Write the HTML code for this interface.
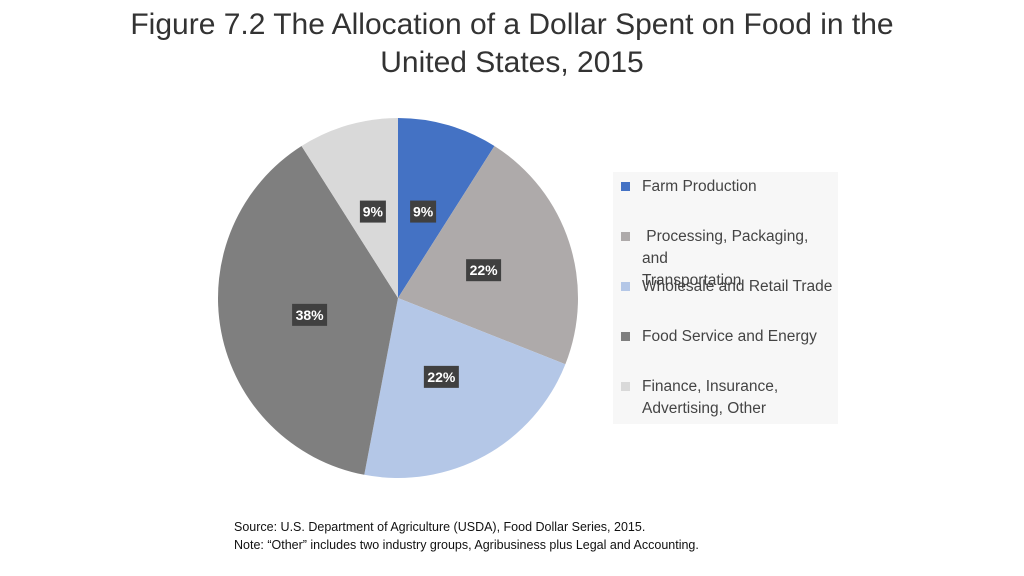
<!DOCTYPE html>
<html><head><meta charset="utf-8"><style>
body{margin:0;width:1024px;height:576px;background:#fff;font-family:"Liberation Sans",sans-serif;overflow:hidden;position:relative}
#title{position:absolute;top:6px;left:0;width:1024px;text-align:center;font-size:30px;line-height:38px;color:#333}
#legend{position:absolute;left:613px;top:172px;width:225px;height:252px;background:#f7f7f7}
.li{position:absolute;left:8px;font-size:15.5px;color:#444;line-height:22px}
.sw{position:absolute;left:0;top:6px;width:9px;height:9px}
.lt{margin-left:21px;display:block}
#note{position:absolute;left:234px;top:518px;font-size:12.5px;line-height:18px;color:#111}
</style></head><body>
<div id="title">Figure 7.2 The Allocation of a Dollar Spent on Food in the<br>United States, 2015</div>
<svg id="pie" width="1024" height="576" style="position:absolute;left:0;top:0"></svg>
<div id="legend"></div>
<div id="note">Source: U.S. Department of Agriculture (USDA), Food Dollar Series, 2015.<br>Note: “Other” includes two industry groups, Agribusiness plus Legal and Accounting.</div>
<script>
const categories=["Farm Production","Processing, Packaging, and Transportation","Wholesale and Retail Trade","Food Service and Energy","Finance, Insurance, Advertising, Other"];
const values=[9,22,22,38,9];
const labels=["9%","22%","22%","38%","9%"];
const colors=["#4472c4","#aeaaaa","#b4c7e7","#7f7f7f","#d9d9d9"];
const legendTops=[4,54,104,154,204];
const legendText=["Farm Production","&nbsp;Processing, Packaging, and<br>Transportation","Wholesale and Retail Trade","Food Service and Energy","Finance, Insurance,<br>Advertising, Other"];
const NS="http://www.w3.org/2000/svg";
const svg=document.getElementById('pie');
const cx=398,cy=298,r=180;
const total=values.reduce((a,b)=>a+b,0);
function pt(a,rr){return [cx+rr*Math.sin(a),cy-rr*Math.cos(a)];}
let a0=0;
values.forEach((v,i)=>{
 const a1=a0+v/total*2*Math.PI;
 const p0=pt(a0,r),p1=pt(a1,r);
 const path=document.createElementNS(NS,'path');
 path.setAttribute('d',`M${cx},${cy}L${p0[0]},${p0[1]}A${r},${r} 0 ${a1-a0>Math.PI?1:0} 1 ${p1[0]},${p1[1]}Z`);
 path.setAttribute('fill',colors[i]);
 
 
 svg.appendChild(path);
 const m=(a0+a1)/2, lp=pt(m,r*0.5);
 const w=labels[i].length*9+8;
 const g=document.createElementNS(NS,'g');
 
 
 const rc=document.createElementNS(NS,'rect');
 rc.setAttribute('x',lp[0]-w/2);rc.setAttribute('y',lp[1]-11);rc.setAttribute('width',w);rc.setAttribute('height',22);rc.setAttribute('fill','#404040');
 g.appendChild(rc);
 const t=document.createElementNS(NS,'text');
 t.setAttribute('x',lp[0]);t.setAttribute('y',lp[1]+5);t.setAttribute('text-anchor','middle');
 t.setAttribute('fill','#fff');t.setAttribute('font-size','14');t.setAttribute('font-weight','bold');t.setAttribute('font-family','Liberation Sans, sans-serif');
 t.textContent=labels[i];
 g.appendChild(t);svg.appendChild(g);
 a0=a1;
});
const lg=document.getElementById('legend');
categories.forEach((c,i)=>{
 const d=document.createElement('div');
 d.className='li';d.style.top=legendTops[i]+'px';
 
 
 d.innerHTML=`<span class="sw" style="background:${colors[i]}"></span><span class="lt">${legendText[i]}</span>`;
 lg.appendChild(d);
});
</script>
</body></html>
